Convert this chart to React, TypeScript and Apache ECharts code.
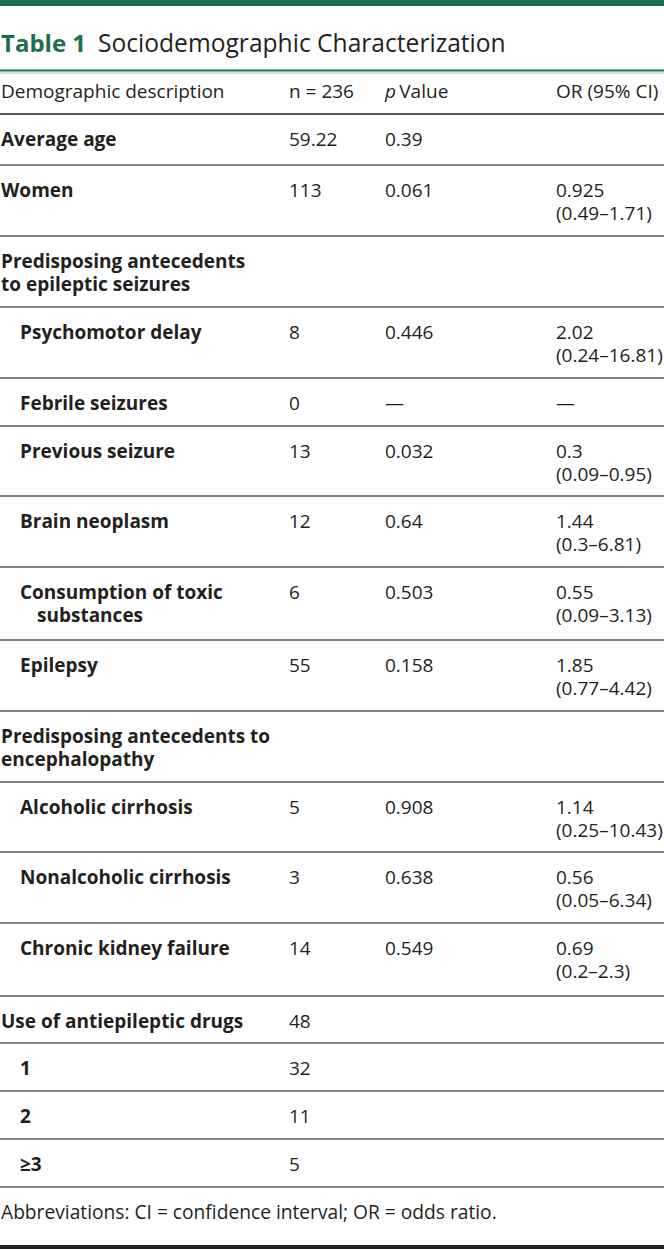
import React, { useEffect, useRef } from "react";
import * as echarts from "echarts";

// ---- Data ----
const titleNumber = "Table 1";
const titleText = "Sociodemographic Characterization";
const headers = ["Demographic description", "n = 236", "p Value", "OR (95% CI)"];
const labels = [
  "Average age",
  "Women",
  "Predisposing antecedents\nto epileptic seizures",
  "Psychomotor delay",
  "Febrile seizures",
  "Previous seizure",
  "Brain neoplasm",
  "Consumption of toxic\nsubstances",
  "Epilepsy",
  "Predisposing antecedents to\nencephalopathy",
  "Alcoholic cirrhosis",
  "Nonalcoholic cirrhosis",
  "Chronic kidney failure",
  "Use of antiepileptic drugs",
  "1",
  "2",
  "≥3",
];
const indentLevels = [0, 0, 0, 1, 1, 1, 1, 1, 1, 0, 1, 1, 1, 0, 1, 1, 1];
const nValues = ["59.22", "113", "", "8", "0", "13", "12", "6", "55", "", "5", "3", "14", "48", "32", "11", "5"];
const pValues = ["0.39", "0.061", "", "0.446", "—", "0.032", "0.64", "0.503", "0.158", "", "0.908", "0.638", "0.549", "", "", "", ""];
const orValues = [
  "",
  "0.925\n(0.49–1.71)",
  "",
  "2.02\n(0.24–16.81)",
  "—",
  "0.3\n(0.09–0.95)",
  "1.44\n(0.3–6.81)",
  "0.55\n(0.09–3.13)",
  "1.85\n(0.77–4.42)",
  "",
  "1.14\n(0.25–10.43)",
  "0.56\n(0.05–6.34)",
  "0.69\n(0.2–2.3)",
  "",
  "",
  "",
  "",
];
const footnote = "Abbreviations: CI = confidence interval; OR = odds ratio.";

// ---- Layout ----
const W = 664;
const H = 1249;
const GREEN = "#1c6e4d";
const TEXT = "#231f20";
const LINE = "#5a5a5a";
const FONT = "'Open Sans', 'Noto Sans', sans-serif";
const FS = 19;
const LH = 23;
const colX = [1, 289, 385, 556];
const rowBorders = [114, 165, 236, 307, 378, 426, 496, 567, 640, 711, 782, 852, 923, 996, 1043, 1091, 1139, 1187];

function txt(x: number, y: number, text: string, opts: any = {}) {
  return {
    type: "text",
    x,
    y,
    silent: true,
    style: {
      text,
      fill: opts.fill || TEXT,
      font: `${opts.italic ? "italic " : ""}${opts.bold ? "bold " : ""}${opts.size || FS}px ${FONT}`,
      textVerticalAlign: "middle",
      textAlign: "left",
    },
  };
}

// multi-line cell as one rich text element (continuation lines may hang-indent)
function cell(x: number, top: number, text: string, bold: boolean, hang: number) {
  const lines = text.split("\n");
  const base = { fontFamily: FONT, fontSize: FS, fontWeight: bold ? "bold" : "normal", fill: TEXT, lineHeight: LH };
  return {
    type: "text",
    x,
    y: top + 24.5 - LH / 2,
    silent: true,
    style: {
      text: lines.map((ln, k) => (k === 0 ? `{a|${ln}}` : `{b|${ln}}`)).join("\n"),
      textVerticalAlign: "top",
      textAlign: "left",
      rich: {
        a: base,
        b: { ...base, padding: [0, 0, 0, hang] },
      },
    },
  };
}

function hline(y: number, width: number, color: string) {
  return {
    type: "line",
    silent: true,
    shape: { x1: 0, y1: y, x2: W, y2: y },
    style: { stroke: color, lineWidth: width },
  };
}

export default function App() {
  const ref = useRef<HTMLDivElement>(null);
  useEffect(() => {
    if (!ref.current) return;
    const chart = echarts.init(ref.current, null, { renderer: "svg" });
    const els: any[] = [];
    els.push({ type: "rect", silent: true, shape: { x: 0, y: 0, width: W, height: 6 }, style: { fill: GREEN } });
    els.push(txt(1, 42, titleNumber, { bold: true, size: 24, fill: GREEN }));
    els.push(txt(98, 42, titleText, { size: 24.6 }));
    els.push(hline(70.5, 2, GREEN));
    els.push(hline(73, 1, "#a9c2b6"));
    // header
    els.push(txt(colX[0], 91, headers[0]));
    els.push(txt(colX[1], 91, headers[1]));
    els.push({
      type: "text",
      x: colX[2],
      y: 91,
      silent: true,
      style: {
        text: "{i|p} {r|Value}",
        textVerticalAlign: "middle",
        rich: {
          i: { fontFamily: FONT, fontSize: FS, fontStyle: "italic", fill: TEXT },
          r: { fontFamily: FONT, fontSize: FS, fill: TEXT },
        },
      },
    });
    els.push(txt(colX[3], 91, headers[3]));
    els.push(hline(rowBorders[0], 2, LINE));
    // body rows
    labels.forEach((label, i) => {
      const top = rowBorders[i];
      const ind = indentLevels[i] * 19;
      els.push(cell(colX[0] + ind, top, label, true, indentLevels[i] > 0 ? 17 : 0));
      [nValues[i], pValues[i], orValues[i]].forEach((v, c) => {
        if (!v) return;
        els.push(cell(colX[c + 1], top, v, false, 0));
      });
      els.push(hline(rowBorders[i + 1], 1.6, LINE));
    });
    els.push(txt(1, 1211, footnote, { size: 19.2 }));
    els.push({ type: "rect", silent: true, shape: { x: 0, y: 1245, width: W, height: 4 }, style: { fill: "#222" } });
    chart.setOption({ animation: false, graphic: { elements: els } });
    return () => chart.dispose();
  }, []);
  return (
    <div
      ref={ref}
      style={{ position: "absolute", left: 0, top: 0, width: W, height: H, background: "#fff" }}
    />
  );
}
